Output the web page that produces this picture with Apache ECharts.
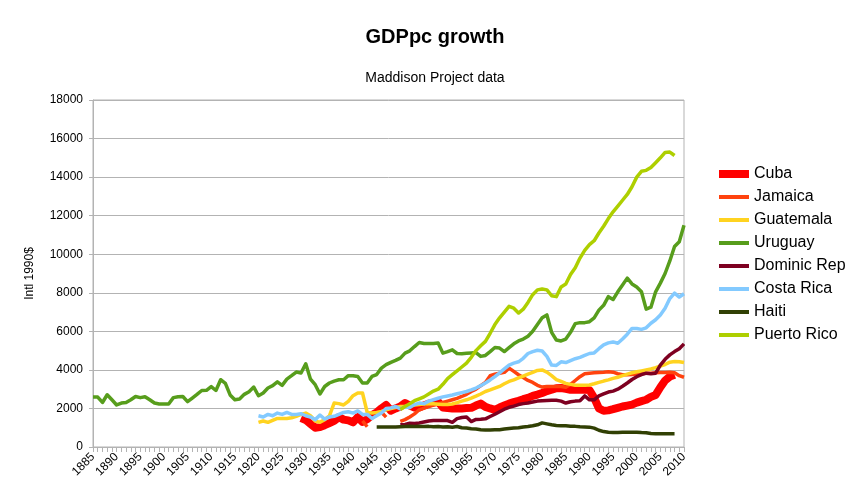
<!DOCTYPE html>
<html>
<head>
<meta charset="utf-8">
<script src="https://cdn.jsdelivr.net/npm/echarts@6/dist/echarts.min.js"></script>
<style>
html,body{margin:0;padding:0;background:#fff;}
#chart{width:859px;height:503px;}
</style>
</head>
<body>
<div id="chart"></div>
<script>
const firstYear = 1885;
const lastYear = 2010;
const seriesNames = ['Cuba','Jamaica','Guatemala','Uruguay','Dominic Rep','Costa Rica','Haiti','Puerto Rico'];

// Each series: values listed from its start year, one per year
const cubaStart = 1929;
const cuba = [1500,1400,1200,1000,1030,1130,1240,1350,1550,1420,1380,1280,1550,1300,1450,1650,1800,2000,2180,1880,2000,2100,2280,2150,2050,2050,2150,2250,2300,2350,2050,2020,2000,2000,2000,2020,2030,2150,2250,2080,2000,1930,2050,2150,2250,2330,2400,2480,2550,2650,2720,2800,2900,2970,3050,3060,3020,2970,2970,2980,2970,2950,2550,2000,1880,1900,1960,2030,2100,2150,2200,2300,2380,2450,2600,2700,3100,3450,3650,3750];

const jamaicaStart = 1942;
const jamaica = [1350,1050,null,null,1800,1550,null,null,1330,1420,1560,1720,1930,2020,2100,2180,2240,2310,2380,2450,2520,2620,2730,2880,3000,3180,3350,3700,3780,3830,3870,4090,3920,3750,3600,3450,3350,3200,3110,3140,3140,3140,3140,3100,3250,3450,3650,3800,3830,3850,3870,3880,3900,3880,3800,3750,3750,3760,3780,3800,3820,3830,3850,3860,3870,3880,3850,3700,3620];

const guatemalaStart = 1920;
const guatemala = [1280,1350,1280,1380,1480,1480,1480,1520,1590,1690,1760,1620,1350,1280,1420,1620,2280,2250,2180,2370,2660,2800,2800,1790,1760,1790,1850,1930,2000,2050,2100,2120,2150,2180,2200,2230,2240,2240,2220,2200,2200,2230,2300,2380,2450,2540,2640,2750,2880,2960,3050,3140,3280,3400,3480,3580,3680,3780,3870,3970,4000,3880,3700,3500,3400,3300,3250,3200,3200,3200,3220,3280,3350,3420,3480,3560,3620,3700,3780,3850,3900,3950,4000,4050,4120,4200,4280,4400,4430,4420,4380];

const uruguayStart = 1885;
const uruguay = [2590,2590,2310,2710,2450,2180,2280,2310,2450,2620,2560,2610,2450,2280,2230,2230,2230,2560,2610,2620,2350,2540,2730,2930,2940,3130,2930,3490,3300,2700,2450,2490,2730,2870,3110,2660,2800,3060,3180,3380,3200,3520,3700,3890,3840,4320,3520,3230,2750,3140,3320,3420,3490,3490,3700,3700,3660,3320,3320,3660,3760,4090,4270,4390,4490,4610,4870,4990,5210,5420,5370,5370,5370,5400,4870,4950,5040,4850,4840,4860,4880,4900,4700,4750,4950,5160,5130,4950,5150,5350,5500,5600,5750,6000,6350,6700,6850,5950,5550,5500,5600,5950,6400,6450,6450,6500,6700,7100,7350,7800,7650,8050,8400,8760,8460,8300,8050,7150,7250,8050,8500,9000,9650,10400,10650,11500];

const dominicStart = 1950;
const dominic = [1150,1170,1230,1220,1250,1300,1350,1370,1380,1370,1370,1280,1470,1530,1560,1320,1430,1440,1460,1580,1700,1830,1960,2060,2120,2200,2250,2280,2330,2380,2400,2410,2420,2420,2380,2280,2350,2380,2400,2650,2450,2450,2650,2750,2850,2900,3000,3150,3320,3500,3650,3750,3830,3800,3830,4250,4550,4780,4950,5100,5350];

const costaRicaStart = 1920;
const costaRica = [1620,1560,1690,1620,1760,1690,1790,1690,1690,1730,1620,1560,1420,1660,1450,1560,1590,1690,1790,1830,1760,1870,1690,1690,1480,1620,1760,2000,2030,2100,1980,2080,2050,2200,2280,2250,2380,2450,2530,2600,2650,2700,2760,2820,2880,2960,3060,3180,3320,3480,3650,3850,4050,4250,4350,4420,4600,4850,4950,5020,4980,4700,4250,4230,4420,4380,4480,4580,4650,4750,4850,4880,5100,5300,5400,5450,5380,5600,5850,6150,6150,6100,6180,6420,6600,6850,7200,7700,7980,7780,7950];

const haitiStart = 1945;
const haiti = [1040,1040,1040,1040,1040,1050,1060,1070,1060,1080,1060,1070,1050,1060,1040,1050,1030,1060,1000,980,950,930,900,880,880,890,900,930,960,980,1000,1040,1060,1100,1150,1250,1200,1150,1120,1100,1100,1080,1070,1050,1040,1030,980,870,800,760,750,750,760,760,760,770,750,740,700,690,690,690,690,690];

const puertoRicoStart = 1950;
const puertoRico = [1950,2100,2250,2400,2500,2600,2750,2900,3000,3250,3550,3750,3950,4150,4350,4650,5000,5250,5480,5900,6350,6700,7000,7300,7200,6950,7150,7500,7900,8150,8200,8150,7850,7800,8300,8450,8950,9300,9800,10200,10500,10700,11100,11450,11850,12200,12500,12800,13100,13500,14000,14300,14350,14500,14750,15000,15280,15300,15120];

const yTicks = [0,2000,4000,6000,8000,10000,12000,14000,16000,18000];

const colors = ['#ff0000','#ff420e','#ffd320','#579d1c','#7e0021','#83caff','#314004','#aecf00'];
const widths = [8,3.5,3.5,3.5,3.5,3.5,3.5,3.5];

const years = [];
for (let y = firstYear; y <= lastYear; y++) years.push(String(y));

function place(start, vals) {
  const out = years.map(() => null);
  vals.forEach((v, i) => { out[start - firstYear + i] = v; });
  return out;
}

const seriesData = [
  place(cubaStart, cuba),
  place(jamaicaStart, jamaica),
  place(guatemalaStart, guatemala),
  place(uruguayStart, uruguay),
  place(dominicStart, dominic),
  place(costaRicaStart, costaRica),
  place(haitiStart, haiti),
  place(puertoRicoStart, puertoRico)
];

const font = '"Liberation Sans", Arial, sans-serif';
const chart = echarts.init(document.getElementById('chart'), null, {renderer: 'canvas'});

const option = {
  animation: false,
  backgroundColor: '#ffffff',
  title: [
    {text: 'GDPpc growth', left: 430, top: 22, textAlign: 'center',
     textStyle: {fontFamily: font, fontSize: 20, fontWeight: 'bold', color: '#000'}},
    {text: 'Maddison Project data', left: 430, top: 66, textAlign: 'center',
     textStyle: {fontFamily: font, fontSize: 14, fontWeight: 'normal', color: '#000'}}
  ],
  legend: {
    orient: 'vertical',
    left: 719,
    top: 165,
    padding: 0,
    itemWidth: 30,
    itemHeight: 14,
    itemGap: 5,
    symbolKeepAspect: true,
    textStyle: {fontFamily: font, fontSize: 16, color: '#000', lineHeight: 18},
    data: seriesNames.map((n, i) => ({
      name: n,
      icon: widths[i] > 5 ? 'path://M0,0L30,0L30,8L0,8Z' : 'path://M0,0L30,0L30,4L0,4Z'
    }))
  },
  grid: {left: 93, right: 175, top: 100, bottom: 56, show: true, borderColor: '#b3b3b3', borderWidth: 1},
  xAxis: {
    type: 'category',
    data: years,
    boundaryGap: false,
    axisLine: {lineStyle: {color: '#b3b3b3', width: 1}},
    axisTick: {show: true, interval: 0, length: 5, lineStyle: {color: '#b3b3b3'}},
    axisLabel: {interval: 4, rotate: 45, fontFamily: font, fontSize: 12, color: '#000', margin: 8},
    splitLine: {show: false}
  },
  yAxis: {
    type: 'value',
    min: yTicks[0],
    max: yTicks[yTicks.length - 1],
    interval: yTicks[1] - yTicks[0],
    name: 'Intl 1990$',
    nameLocation: 'middle',
    nameGap: 57,
    nameRotate: 90,
    nameTextStyle: {fontFamily: font, fontSize: 12, color: '#000'},
    axisLine: {show: true, lineStyle: {color: '#b3b3b3', width: 1}},
    axisTick: {show: true, length: 4, lineStyle: {color: '#b3b3b3'}},
    axisLabel: {fontFamily: font, fontSize: 12, color: '#000', margin: 10, formatter: v => String(v)},
    splitLine: {show: true, lineStyle: {color: '#b3b3b3', width: 1}}
  },
  series: seriesNames.map((n, i) => ({
    name: n,
    type: 'line',
    data: seriesData[i],
    showSymbol: false,
    symbol: 'none',
    connectNulls: false,
    smooth: false,
    color: colors[i],
    lineStyle: {color: colors[i], width: widths[i], join: 'round', cap: 'butt'},
    itemStyle: {color: colors[i]},
    emphasis: {disabled: true}
  }))
};
chart.setOption(option);
</script>
</body>
</html>
